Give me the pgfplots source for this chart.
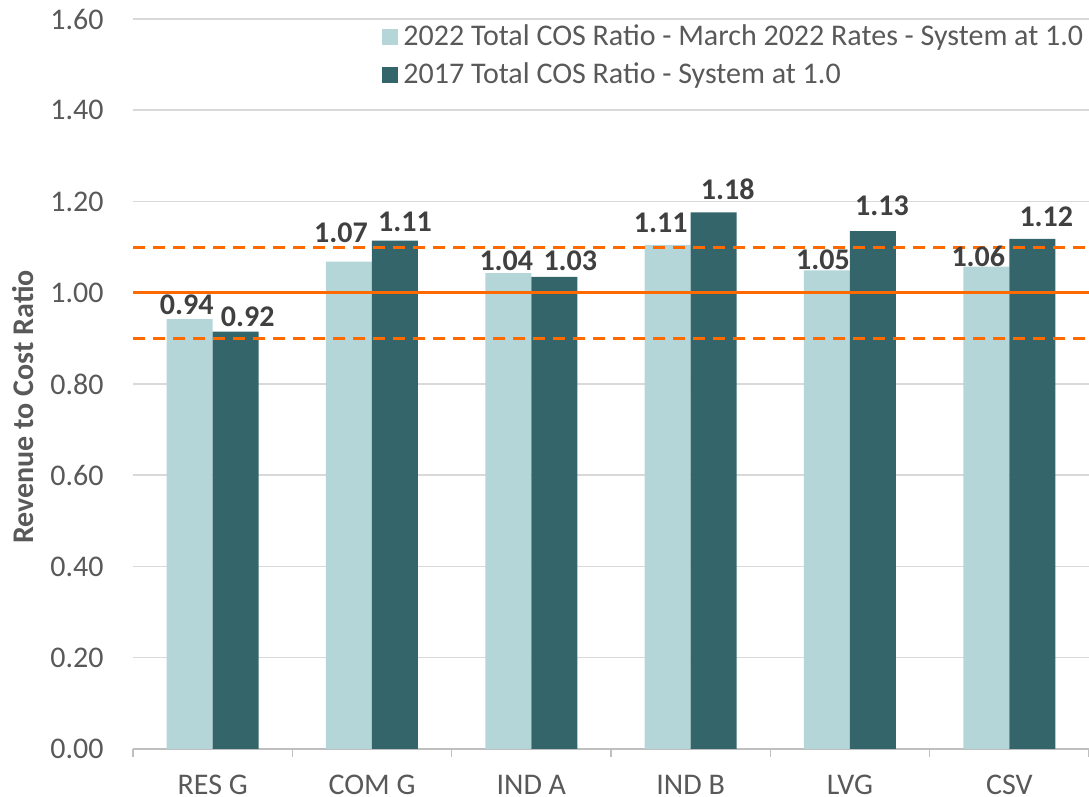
\documentclass[border=0pt]{standalone}
\usepackage{pgfplots}
\pgfplotsset{compat=1.18}
\usepackage{pgfplotstable}
\usepackage{fontspec}
\setmainfont{Carlito}
\definecolor{lightbar}{RGB}{180,214,217}
\definecolor{darkbar}{RGB}{52,101,107}
\definecolor{txtgray}{RGB}{89,89,89}
\definecolor{lblgray}{RGB}{64,64,64}
\definecolor{gridgray}{RGB}{217,217,217}
\definecolor{axgray}{RGB}{191,191,191}
\definecolor{refor}{RGB}{255,106,0}

\pgfplotstableread{
x y lab dx dy
0 0.942 0.94 -1.5 2.5
1 1.068 1.07 -4 9.5
2 1.043 1.04 -1 1.5
3 1.105 1.11 -3.5 6
4 1.049 1.05 -2 0.5
5 1.057 1.06 -4 0
}\lightdata
\pgfplotstableread{
x y lab dx dy
0 0.915 0.92 6 2.5
1 1.114 1.11 5 4.5
2 1.035 1.03 8 3
3 1.176 1.18 7 6.5
4 1.135 1.13 4.5 8
5 1.118 1.12 7 6
}\darkdata

\pgfplotsset{barlabels/.style={
  point meta=explicit symbolic,
  nodes near coords,
  visualization depends on={\thisrow{dx} \as \dx},
  visualization depends on={\thisrow{dy} \as \dy},
  every node near coord/.append style={anchor=base, xshift=\dx*1pt, yshift=\dy*1pt,
    font=\bfseries\fontsize{15}{18}\selectfont, text=lblgray},
}}

\begin{document}
\begin{tikzpicture}
\begin{axis}[
  at={(0,0)}, anchor=south west,
  scale only axis,
  width=478pt, height=365pt,
  xmin=-0.5, xmax=5.5,
  ymin=0, ymax=1.6,
  ybar=0pt, bar width=23pt,
  xtick={-0.5,0.5,...,5.5},
  x tick label as interval,
  xticklabels={RES G,COM G,IND A,IND B,LVG,CSV},
  ytick={0,0.2,...,1.6},
  ymajorgrids,
  grid style={gridgray, line width=0.75pt},
  y axis line style={draw=none},
  axis x line*=bottom,
  axis y line*=left,
  x axis line style={axgray, line width=0.75pt},
  xtick style={axgray, line width=0.75pt},
  tick align=outside,
  major tick length=4pt,
  ytick style={draw=none},
  tick label style={font=\fontsize{15}{18}\selectfont, text=txtgray},
  /pgf/number format/assume math mode=true,
  yticklabel style={/pgf/number format/fixed, /pgf/number format/fixed zerofill, /pgf/number format/precision=2},
  yticklabel style={inner sep=0pt, xshift=-10.5pt},
  xticklabel style={inner sep=0pt, anchor=base, yshift=-19pt},
  ylabel={Revenue to Cost Ratio},
  every axis y label/.style={at={(axis description cs:0,0.5)}, anchor=center, shift={(-55pt,-11.5pt)}, rotate=90, font=\bfseries\fontsize{15}{18}\selectfont, text=txtgray},
  legend style={at={(axis description cs:0.2605,0.999)}, anchor=north west, draw=none, fill=none,
    font=\fontsize{15}{18}\selectfont, text=txtgray, inner sep=0pt, row sep=2pt,
    nodes={inner sep=2.5pt}},
  legend cell align=left,
  legend image code/.code={\fill[#1] (0pt,-4pt) rectangle (8pt,4pt);},
]
\addplot[fill=lightbar, draw=none, barlabels] table[x=x,y=y,meta=lab] {\lightdata};
\addlegendentry{2022 Total COS Ratio - March 2022 Rates - System at 1.0}
\addplot[fill=darkbar, draw=none, barlabels] table[x=x,y=y,meta=lab] {\darkdata};
\addlegendentry{2017 Total COS Ratio - System at 1.0}
\addplot[sharp plot, refor, line width=1.5pt, forget plot] coordinates {(-0.5,1.0) (5.5,1.0)};
\addplot[sharp plot, refor, line width=1.5pt, dash pattern=on 6pt off 4pt, forget plot] coordinates {(-0.5,1.1) (5.5,1.1)};
\addplot[sharp plot, refor, line width=1.5pt, dash pattern=on 6pt off 4pt, forget plot] coordinates {(-0.5,0.9) (5.5,0.9)};
\end{axis}
\pgfresetboundingbox
\path[use as bounding box] (-66.5pt,-24pt) rectangle (478pt,374.5pt);
\end{tikzpicture}
\end{document}
